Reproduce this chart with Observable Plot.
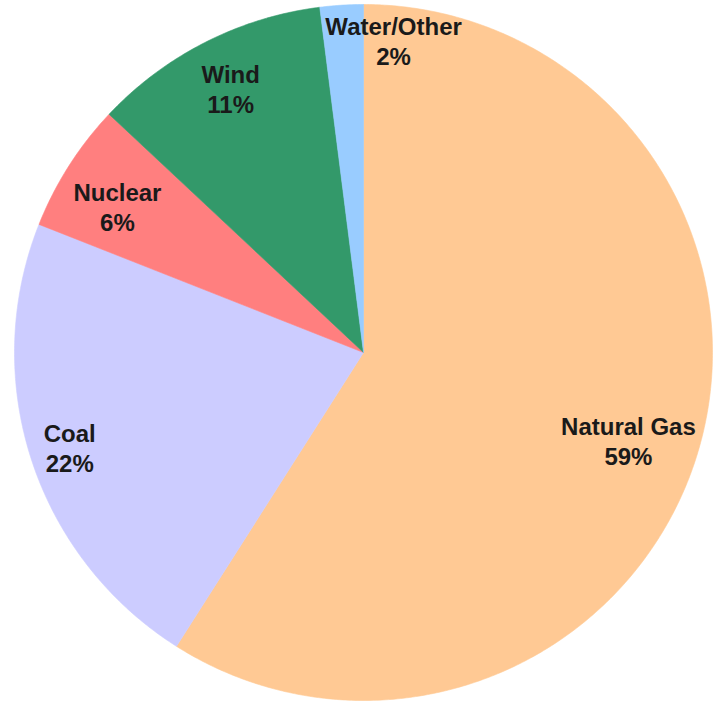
<!DOCTYPE html>
<html><head><meta charset="utf-8">
<script src="https://cdn.jsdelivr.net/npm/d3@7"></script>
<script src="https://cdn.jsdelivr.net/npm/@observablehq/plot@0.6"></script>
<style>body{margin:0;background:#fff}</style>
</head><body><div id="chart"></div>
<script>
const categories = ["Natural Gas", "Coal", "Nuclear", "Wind", "Water/Other"];
const shares = [59, 22, 6, 11, 2];
const colors = ["#FFC994", "#CCCCFF", "#FF7F7F", "#33996A", "#99CCFF"];

const total = d3.sum(shares);
let acc = 0;
const slices = categories.map((c, i) => {
  const a0 = acc / total * 2 * Math.PI;
  acc += shares[i];
  const a1 = acc / total * 2 * Math.PI;
  return {c, v: shares[i], a0, a1};
});

// wedge outlines (clockwise from 12 o'clock)
const pts = [];
for (const s of slices) {
  pts.push({c: s.c, x: 0, y: 0});
  const n = Math.max(2, Math.ceil((s.a1 - s.a0) / (Math.PI / 360)));
  for (let k = 0; k <= n; k++) {
    const a = s.a0 + (s.a1 - s.a0) * k / n;
    pts.push({c: s.c, x: Math.sin(a), y: Math.cos(a)});
  }
  pts.push({c: s.c, x: 0, y: 0});
}

// label placement tweaks (degrees offset from mid-angle, radius fraction)
const tweak = {
  "Natural Gas": [2.2, 0.80],
  "Coal": [0, 0.885],
  "Nuclear": [-1.7, 0.82],
  "Wind": [0.4, 0.85],
  "Water/Other": [9.1, 0.90]
};
const labels = slices.map(s => {
  const [da, r] = tweak[s.c];
  const a = (s.a0 + s.a1) / 2 + da * Math.PI / 180;
  return {c: s.c, text: `${s.c}\n${s.v}%`, x: r * Math.sin(a), y: r * Math.cos(a)};
});

const chart = Plot.plot({
  width: 713,
  height: 705,
  marginLeft: 14,
  marginRight: 1,
  marginTop: 4,
  marginBottom: 5,
  x: {domain: [-1, 1], axis: null},
  y: {domain: [-1, 1], axis: null},
  color: {domain: categories, range: colors},
  style: {background: "#fff"},
  marks: [
    Plot.line(pts, {x: "x", y: "y", z: "c", fill: "c", stroke: "c", strokeWidth: 0.6, curve: "linear"}),
    Plot.text(labels, {
      x: "x", y: "y", text: "text",
      fontSize: 24, fontWeight: "bold", lineHeight: 1.25,
      fontFamily: "Liberation Sans, Arial, sans-serif",
      fill: "#1a1a1a"
    })
  ]
});
document.getElementById("chart").appendChild(chart);
</script>
</body></html>
